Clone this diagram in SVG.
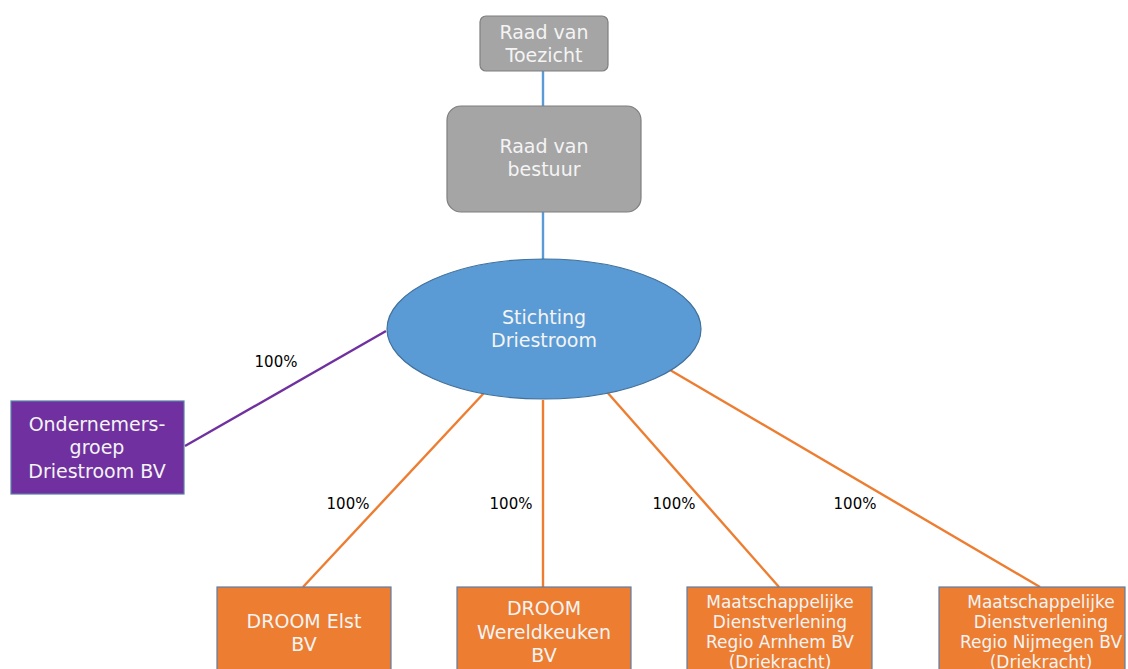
<svg xmlns="http://www.w3.org/2000/svg" width="1128" height="669" viewBox="0 0 1128 669">
<style>
.t{font-family:"DejaVu Sans",Verdana,sans-serif;font-size:19px;fill:#f4f4f4;text-anchor:middle}
.s{font-family:"DejaVu Sans",Verdana,sans-serif;font-size:17px;fill:#f4f4f4;text-anchor:middle}
.p{font-family:"DejaVu Sans",Verdana,sans-serif;font-size:15px;fill:#000;text-anchor:middle}
.gray{fill:#a5a5a5;stroke:#7f7f7f;stroke-width:1.2}
.org{fill:#ed7d31;stroke:#5a7fa8;stroke-width:1.2}
</style>
<rect width="1128" height="669" fill="#fff"/>
<g id="connectors" fill="none" stroke-width="2.4">
<line x1="543" y1="71" x2="543" y2="106" stroke="#5b9bd5"/>
<line x1="543" y1="212" x2="543" y2="259" stroke="#5b9bd5"/>
<line x1="386" y1="331" x2="185" y2="446" stroke="#7030a0"/>
<line x1="484" y1="393" x2="303" y2="587" stroke="#ed7d31"/>
<line x1="543" y1="400" x2="543" y2="587" stroke="#ed7d31"/>
<line x1="607" y1="392" x2="779" y2="587" stroke="#ed7d31"/>
<line x1="670" y1="370" x2="1040" y2="587" stroke="#ed7d31"/>
</g>
<g id="labels">
<text class="p" x="276" y="367">100%</text>
<text class="p" x="348" y="509">100%</text>
<text class="p" x="511" y="509">100%</text>
<text class="p" x="674" y="509">100%</text>
<text class="p" x="855" y="509">100%</text>
</g>
<g id="raad-toezicht">
<rect class="gray" x="480" y="16" width="128" height="55" rx="6"/>
<text class="t" x="544" y="39">Raad van</text>
<text class="t" x="544" y="62">Toezicht</text>
</g>
<g id="raad-bestuur">
<rect class="gray" x="447" y="106" width="194" height="106" rx="14"/>
<text class="t" x="544" y="153">Raad van</text>
<text class="t" x="544" y="176">bestuur</text>
</g>
<g id="stichting">
<ellipse cx="544" cy="329" rx="157" ry="70" fill="#5b9bd5" stroke="#41719c" stroke-width="1.2"/>
<text class="t" x="544" y="324">Stichting</text>
<text class="t" x="544" y="347">Driestroom</text>
</g>
<g id="ondernemersgroep">
<rect x="11" y="401" width="173" height="93" fill="#7030a0" stroke="#5a7fa8" stroke-width="1.2"/>
<text class="t" x="97" y="431">Ondernemers-</text>
<text class="t" x="97" y="454">groep</text>
<text class="t" x="97" y="478">Driestroom BV</text>
</g>
<g id="droom-elst">
<rect class="org" x="217" y="587" width="174" height="100"/>
<text class="t" x="304" y="628">DROOM Elst</text>
<text class="t" x="304" y="651">BV</text>
</g>
<g id="droom-wereldkeuken">
<rect class="org" x="457" y="587" width="174" height="100"/>
<text class="t" x="544" y="615">DROOM</text>
<text class="t" x="544" y="639">Wereldkeuken</text>
<text class="t" x="544" y="662">BV</text>
</g>
<g id="md-arnhem">
<rect class="org" x="687" y="587" width="185" height="100"/>
<text class="s" x="780" y="608">Maatschappelijke</text>
<text class="s" x="780" y="628">Dienstverlening</text>
<text class="s" x="780" y="648">Regio Arnhem BV</text>
<text class="s" x="780" y="668">(Driekracht)</text>
</g>
<g id="md-nijmegen">
<rect class="org" x="939" y="587" width="186" height="100"/>
<text class="s" x="1041" y="608">Maatschappelijke</text>
<text class="s" x="1041" y="628">Dienstverlening</text>
<text class="s" x="1041" y="648">Regio Nijmegen BV</text>
<text class="s" x="1041" y="668">(Driekracht)</text>
</g>
</svg>
